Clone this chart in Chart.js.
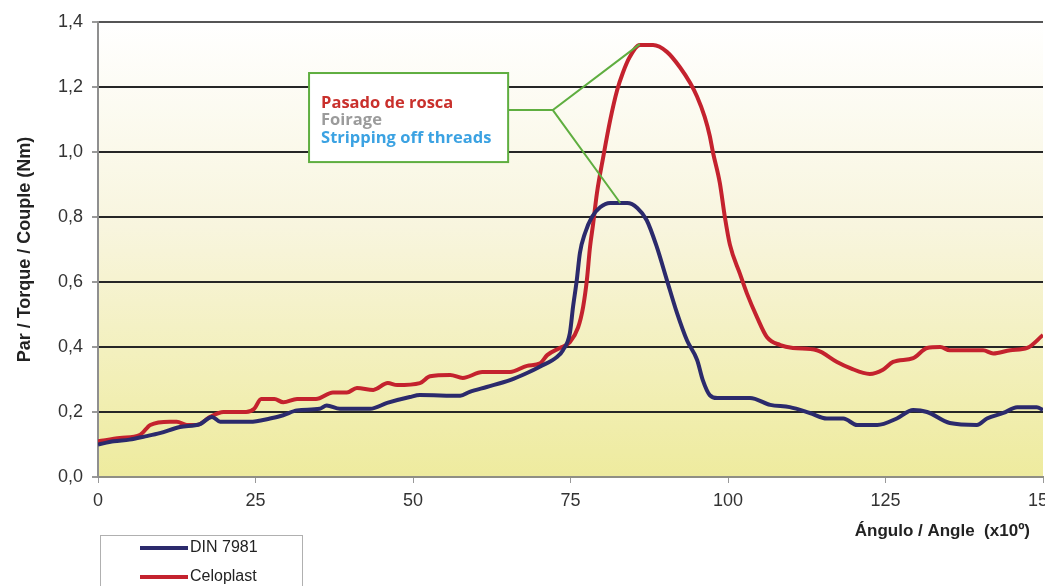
<!DOCTYPE html>
<html>
<head>
<meta charset="utf-8">
<script src="https://cdn.jsdelivr.net/npm/chart.js@4.4.0/dist/chart.umd.min.js"></script>
<style>
html, body { margin: 0; padding: 0; background: #fff; overflow: hidden; }
#caja { width: 1080px; height: 586px; }
</style>
</head>
<body>
<div id="caja"><canvas id="grafico1" width="1080" height="586"></canvas></div>
<script>
const grafico1 = document.getElementById("grafico1")

// DIN 7981 (azul)
const dinAngulo = [0, 2.5, 5, 7.5, 9.8, 13, 16.2, 18.1, 19.4, 24.1, 27.3, 29.4, 31.6, 35.2, 36.3, 38.4, 43.2, 45.9, 49.5, 51.1,
    57.5, 59, 61.7, 65.4, 68.1, 70.2, 72.9, 73.8, 74.9, 75.4, 76, 76.5, 77.3, 78.4, 79.7, 81.3, 84, 85.6, 87.1, 88.7,
    90.3, 91.9, 93.5, 95.1, 96, 97.1, 98.3, 103.5, 106.7, 109.8, 113, 115.7, 118.3, 120.5, 123.7, 126.8, 129.4, 131.6, 135.2, 139.5,
    141.1, 143.7, 145.9, 149, 150]
const dinPar = [0.10, 0.11, 0.115, 0.125, 0.135, 0.154, 0.163, 0.185, 0.17, 0.17, 0.18, 0.19, 0.205, 0.21, 0.22, 0.21, 0.21, 0.228, 0.246, 0.252,
    0.25, 0.262, 0.277, 0.298, 0.32, 0.34, 0.37, 0.39, 0.443, 0.523, 0.606, 0.69, 0.75, 0.8, 0.83, 0.843, 0.843, 0.828, 0.79, 0.708,
    0.606, 0.505, 0.42, 0.36, 0.298, 0.252, 0.243, 0.243, 0.222, 0.215, 0.197, 0.18, 0.18, 0.16, 0.16, 0.18, 0.206, 0.2, 0.166, 0.16,
    0.18, 0.197, 0.215, 0.215, 0.206]

// Celoplast (rojo)
const celoAngulo = [0, 3.5, 6.7, 8.3, 11.4, 12.5, 14.1, 15.7, 17.8, 19.9, 23.5, 24.8, 25.9, 28, 29.4, 31.6, 34.6, 37.3, 39.5, 41.1,
    43.7, 46, 47.5, 51.1, 52.7, 55.9, 57.9, 61, 65.4, 68.1, 70.2, 71.3, 73.3, 74.9, 76.2, 77, 77.6, 78.1, 78.6, 79.2,
    80.2, 81.3, 82.4, 83.3, 84.4, 86, 88.1, 90.3, 92.4, 94, 95.1, 96.3, 97.1, 97.6, 98.7, 99.5, 100.3, 101.9, 103, 104.6,
    106.2, 108.3, 110.3, 114.1, 117.3, 119.4, 122.5, 124.6, 126.2, 129.4, 131.6, 133.7, 135.2, 140.5, 142.1, 144.8, 147.5, 150]
const celoPar = [0.11, 0.12, 0.13, 0.16, 0.17, 0.17, 0.16, 0.16, 0.185, 0.2, 0.2, 0.21, 0.24, 0.24, 0.23, 0.24, 0.24, 0.26, 0.26, 0.274,
    0.268, 0.289, 0.283, 0.289, 0.31, 0.314, 0.305, 0.323, 0.323, 0.342, 0.35, 0.375, 0.397, 0.415, 0.46, 0.523, 0.606, 0.708, 0.78, 0.874,
    0.985, 1.098, 1.19, 1.243, 1.292, 1.329, 1.329, 1.308, 1.26, 1.212, 1.17, 1.108, 1.05, 1.0, 0.905, 0.8, 0.715, 0.625, 0.565, 0.492,
    0.43, 0.406, 0.397, 0.39, 0.354, 0.335, 0.317, 0.33, 0.354, 0.366, 0.397, 0.4, 0.39, 0.39, 0.38, 0.39, 0.397, 0.437]

const ticksX = [0, 25, 50, 75, 100, 125, 150]
const ticksY = [0, 0.2, 0.4, 0.6, 0.8, 1.0, 1.2, 1.4]

const notaTextos = ['Pasado de rosca', 'Foirage', 'Stripping off threads']
const notaColores = ['#c9302c', '#9b9b9b', '#3ba2e2']

const fuente = "'Liberation Sans', Arial, sans-serif"

function puntos(xs, ys) {
    return xs.map((x, i) => ({ x: x, y: ys[i] }))
}

const fondo = {
    id: 'fondo',
    beforeDraw(chart) {
        const { ctx, chartArea: a } = chart
        const g = ctx.createLinearGradient(0, a.top, 0, a.bottom)
        g.addColorStop(0, '#ffffff')
        g.addColorStop(0.45, '#f8f5de')
        g.addColorStop(1, '#eeeb9e')
        ctx.save()
        ctx.fillStyle = g
        ctx.fillRect(a.left, a.top, a.width, a.height)
        ctx.restore()
    }
}

const nota = {
    id: 'nota',
    afterDatasetsDraw(chart) {
        const ctx = chart.ctx
        const sx = chart.scales.x, sy = chart.scales.y
        const px = v => sx.getPixelForValue(v)
        const py = v => sy.getPixelForValue(v)
        const x0 = px(33.5), x1 = px(65.1), y0 = py(1.243), y1 = py(0.969)
        const ym = py(1.129)
        ctx.save()
        ctx.strokeStyle = '#5fae40'
        ctx.lineWidth = 2
        ctx.beginPath()
        ctx.moveTo(x1, ym)
        ctx.lineTo(px(72.2), ym)
        ctx.lineTo(px(86), py(1.332))
        ctx.moveTo(px(72.2), ym)
        ctx.lineTo(px(82.9), py(0.843))
        ctx.stroke()
        ctx.fillStyle = '#ffffff'
        ctx.fillRect(x0, y0, x1 - x0, y1 - y0)
        ctx.strokeRect(x0, y0, x1 - x0, y1 - y0)
        ctx.font = "bold 16.5px 'Open Sans', sans-serif"
        ctx.textBaseline = 'middle'
        notaTextos.forEach((t, i) => {
            ctx.fillStyle = notaColores[i]
            ctx.fillText(t, x0 + 12, y0 + 30 + i * 17.5)
        })
        ctx.restore()
    }
}

const leyenda = {
    id: 'leyenda',
    afterDraw(chart) {
        const ctx = chart.ctx
        ctx.save()
        // titulo del eje x
        ctx.font = 'bold 17px ' + fuente
        ctx.fillStyle = '#222'
        ctx.textAlign = 'right'
        ctx.textBaseline = 'middle'
        ctx.fillText('Ángulo / Angle  (x10º)', chart.chartArea.right - 13, 531)
        // caja de leyenda
        ctx.strokeStyle = '#b0b0b0'
        ctx.lineWidth = 1
        ctx.strokeRect(100.5, 535.5, 202, 90)
        ctx.textAlign = 'left'
        ctx.font = '16px ' + fuente
        chart.data.datasets.forEach((ds, i) => {
            const y = 548 + i * 29
            ctx.strokeStyle = ds.borderColor
            ctx.lineWidth = 4
            ctx.beginPath()
            ctx.moveTo(140, y)
            ctx.lineTo(188, y)
            ctx.stroke()
            ctx.fillStyle = '#222'
            ctx.fillText(ds.label, 190, y)
        })
        ctx.restore()
    }
}

new Chart(grafico1, {
    type: 'line',
    data: {
        datasets: [{
            label: 'DIN 7981',
            data: puntos(dinAngulo, dinPar),
            borderColor: '#2b2a6c',
            borderWidth: 4,
            pointRadius: 0,
            cubicInterpolationMode: 'monotone'
        }, {
            label: 'Celoplast',
            data: puntos(celoAngulo, celoPar),
            borderColor: '#c4222e',
            borderWidth: 4,
            pointRadius: 0,
            cubicInterpolationMode: 'monotone'
        }]
    },
    options: {
        responsive: false,
        animation: false,
        layout: { padding: { top: 22, right: 37, left: 0, bottom: 0 } },
        plugins: {
            legend: { display: false },
            tooltip: { enabled: false }
        },
        scales: {
            x: {
                type: 'linear',
                min: 0,
                max: 150,
                afterBuildTicks: s => { s.ticks = ticksX.map(v => ({ value: v })) },
                afterFit: s => { s.height = 109 },
                ticks: {
                    color: '#333',
                    font: { family: fuente, size: 18 },
                    padding: 7,
                    maxRotation: 0
                },
                grid: {
                    drawOnChartArea: false,
                    drawTicks: true,
                    tickLength: 6,
                    tickColor: '#999'
                },
                border: { color: '#8f8f84', width: 2 }
            },
            y: {
                min: 0,
                max: 1.4,
                afterBuildTicks: s => { s.ticks = ticksY.map(v => ({ value: v })) },
                afterFit: s => { s.width = 98 },
                ticks: {
                    color: '#333',
                    font: { family: fuente, size: 18 },
                    padding: 9,
                    callback: v => v.toFixed(1).replace('.', ',')
                },
                grid: {
                    color: c => c.tick && c.tick.value === 0 ? '#8f8f84' : (c.tick && c.tick.value > 1.3 ? '#555' : '#262626'),
                    lineWidth: 2,
                    tickLength: 6,
                    tickColor: '#999'
                },
                border: { color: '#8f8f8f', width: 2 },
                title: {
                    display: true,
                    text: 'Par / Torque / Couple (Nm)',
                    color: '#222',
                    font: { family: fuente, size: 18, weight: 'bold' },
                    padding: { top: 14, bottom: 0 }
                }
            }
        }
    },
    plugins: [fondo, nota, leyenda]
});
</script>
</body>
</html>
